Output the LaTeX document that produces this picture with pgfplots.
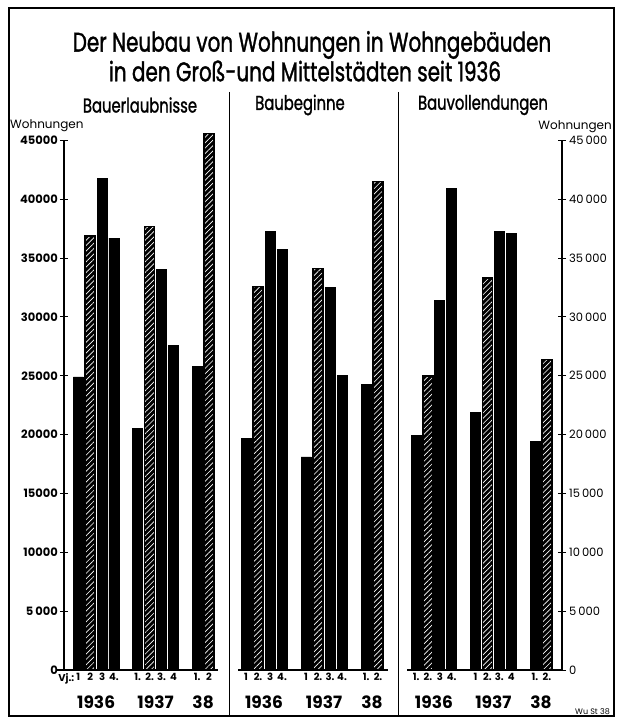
\documentclass[border=0pt]{standalone}
\usepackage{pgfplots}
\pgfplotsset{compat=1.18}
\usepackage{fontspec}
\setmainfont{Poppins}
\newfontfamily\ttl{Poppins}[FakeStretch=0.74, FakeBold=1.2]
\usetikzlibrary{patterns.meta}
\pgfplotsset{
  panel/.style={
    scale only axis, height=529.6pt, ymin=0, ymax=45000,
    ybar, bar width=10pt, bar shift=0pt, clip=false,
    scaled y ticks=false,
    xtick={0,1,2,3,5,6,7,8,10,11},
    major tick length=0pt,
    xticklabel style={font=\bfseries\fontsize{10}{10}\selectfont, inner sep=1pt, yshift=-2pt},
    axis line style={-, line width=1.2pt},
    every tick/.style={black, line width=1pt},
  },
  blk/.style={fill=black, draw=black, line width=0.8pt},
  hat/.style={draw=black, line width=1.6pt, fill=none,
    preaction={fill=black},
    preaction={pattern={Lines[angle=45,distance=3.8pt,line width=0.65pt]}, pattern color=white}},
}
\newcommand\yr[2]{\node[font=\bfseries\fontsize{17}{17}\selectfont] at (axis cs:#1,0) [yshift=-32pt] {#2};}
\begin{document}
\begin{tikzpicture}[x=1pt,y=1pt]
\useasboundingbox (0,0) rectangle (624,724);
\draw[line width=1.8pt] (9,8) rectangle (614,716);
\draw[line width=1pt] (229,632) -- (229,8);
\draw[line width=1pt] (398,632) -- (398,8);
\node[font=\ttl\fontsize{27}{27}\selectfont] at (312,679) {Der Neubau von Wohnungen in Wohngebäuden};
\node[font=\ttl\fontsize{27}{27}\selectfont] at (305,653) {in den Groß-und Mittelstädten seit 1936};
\node[font=\ttl\fontsize{20}{20}\selectfont] at (140,619) {Bauerlaubnisse};
\node[font=\ttl\fontsize{20}{20}\selectfont] at (300,619) {Baubeginne};
\node[font=\ttl\fontsize{20}{20}\selectfont] at (483,619) {Bauvollendungen};
\node[font=\fontsize{12}{12}\selectfont, anchor=west, inner sep=0pt] at (10,598) {Wohnungen};
\node[font=\fontsize{12}{12}\selectfont, anchor=east, inner sep=0pt] at (612,597) {Wohnungen};
\node[font=\bfseries\fontsize{10}{10}\selectfont, anchor=east, inner sep=0pt] at (74.5,45.5) {Vj.:};
\node[font=\fontsize{8}{8}\selectfont, anchor=east, inner sep=0pt] at (610,12) {Wu St 38};
\draw[line width=1.2pt] (57,54) -- (64,54);

% Panel 1
\begin{axis}[panel, at={(64pt,54pt)}, anchor=south west, width=154pt,
  xmin=-1.2, xmax=11.75,
  axis x line*=bottom, axis y line*=left,
  xticklabels={1,2,3,4.,1.,2.,3.,4,1.,2},
  ytick={0,5000,...,45000},
  yticklabels={0,5\,000,10000,15000,20000,25000,30000,35000,40000,45000},
  yticklabel style={font=\bfseries\fontsize{11.5}{11.5}\selectfont, inner sep=0pt, xshift=-6pt},
  extra y ticks={0,5000,...,45000}, extra y tick labels={},
  extra y tick style={major tick length=8pt, tick align=center},
]
\addplot[blk] coordinates {(0,24900)(2,41800)(3,36700)(5,20500)(7,34000)(8,27600)(10,25800)};
\addplot[hat] coordinates {(1,36900)(6,37700)(11,45600)};
\yr{1.5}{1936}\yr{6.5}{1937}\yr{10.5}{38}
\end{axis}

% Panel 2
\begin{axis}[panel, at={(238pt,54pt)}, anchor=south west, width=150pt,
  xmin=-0.67, xmax=11.83,
  axis x line*=bottom, axis y line=none,
  xticklabels={1,2.,3,4.,1,2.,3.,4.,1.,2.},
]
\addplot[blk] coordinates {(0,19700)(2,37300)(3,35700)(5,18100)(7,32500)(8,25000)(10,24300)};
\addplot[hat] coordinates {(1,32600)(6,34100)(11,41500)};
\yr{1.5}{1936}\yr{6.5}{1937}\yr{10.5}{38}
\end{axis}

% Panel 3
\begin{axis}[panel, at={(407pt,54pt)}, anchor=south west, width=155pt,
  xmin=-0.76, xmax=12.27,
  axis x line*=bottom, axis y line*=right,
  xticklabels={1.,2.,3,4.,1,2.,3.,4,1.,2.},
  ytick={0,5000,...,45000},
  yticklabels={0,5\,000,10\,000,15\,000,20\,000,25\,000,30\,000,35\,000,40\,000,45\,000},
  yticklabel style={font=\fontsize{11.5}{11.5}\selectfont, inner sep=0pt, xshift=7pt},
  extra y ticks={0,5000,...,45000}, extra y tick labels={},
  extra y tick style={major tick length=8pt, tick align=center},
]
\addplot[blk] coordinates {(0,19900)(2,31400)(3,40900)(5,21900)(7,37300)(8,37100)(10,19400)};
\addplot[hat] coordinates {(1,25000)(6,33300)(11,26400)};
\yr{1.5}{1936}\yr{6.5}{1937}\yr{10.5}{38}
\end{axis}
\end{tikzpicture}
\end{document}
